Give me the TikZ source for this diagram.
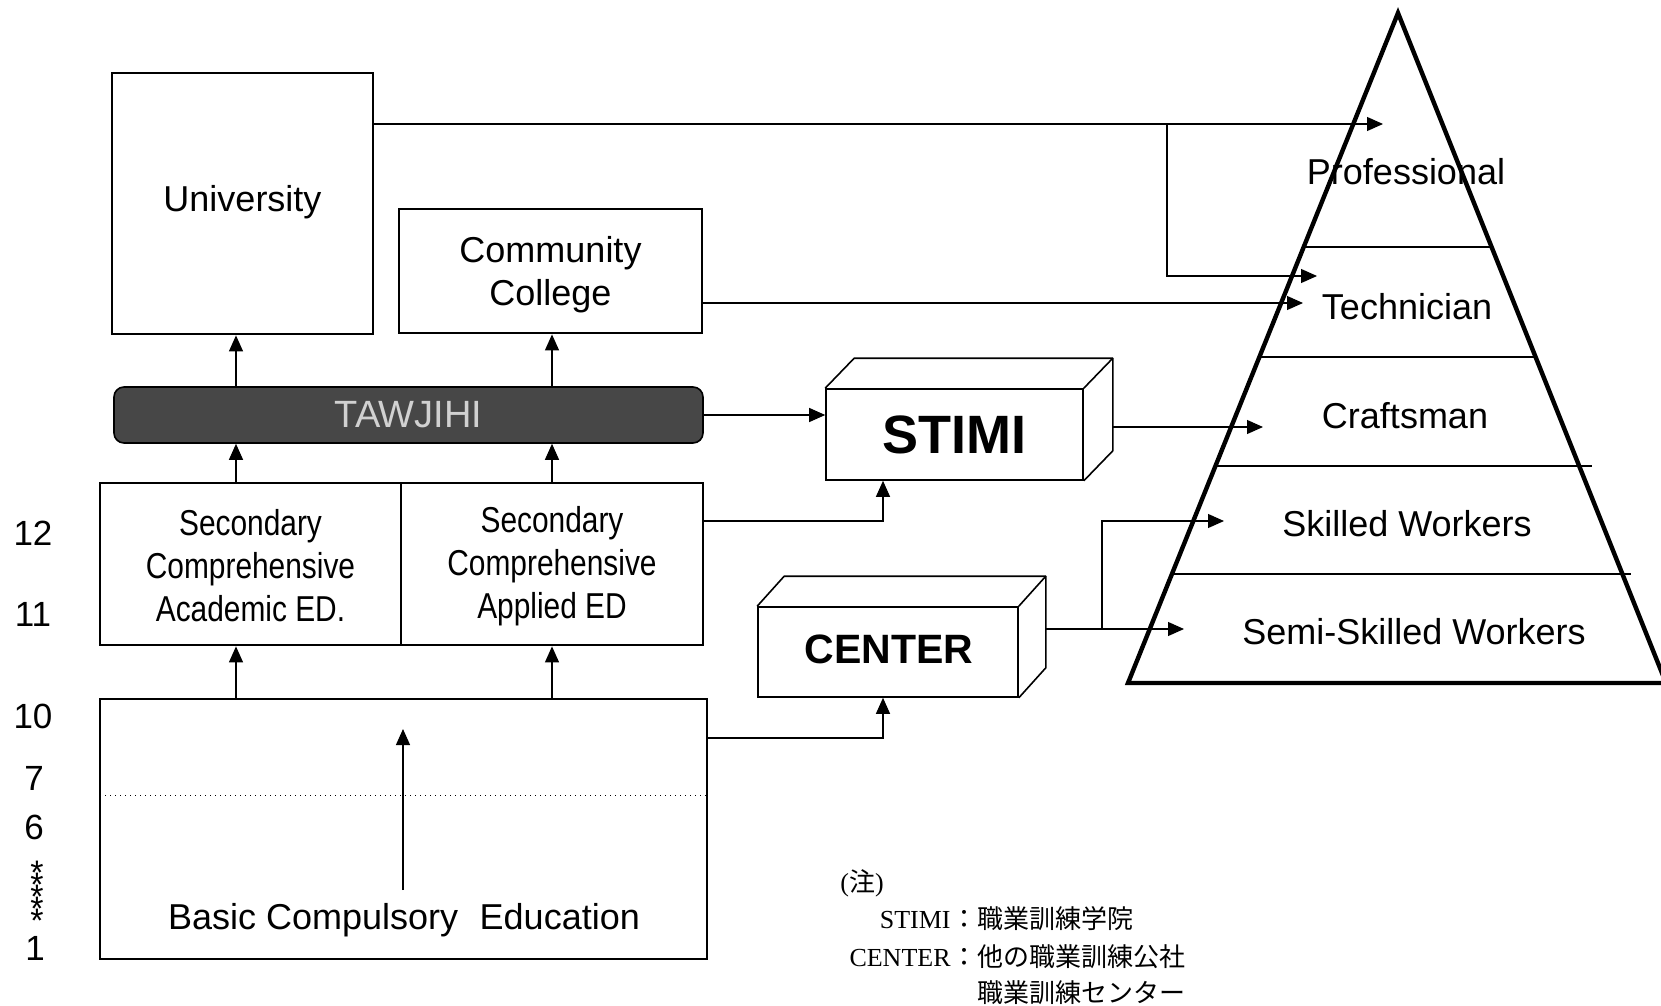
\documentclass[tikz,border=0pt]{standalone}
\usepackage{fontspec}
\setmainfont{Liberation Sans}
\newfontfamily\narrowsans[FakeStretch=0.83]{Liberation Sans}
\newfontfamily\notefont{Liberation Serif}
\newfontfamily\jpfont{Noto Sans CJK JP}
\usetikzlibrary{fit,arrows.meta,calc}
\begin{document}
\begin{tikzpicture}[x=0.5pt,y=-0.5pt,
 box/.style={draw,line width=1.4pt,inner sep=0pt},
 cube/.style={draw,line width=0.8pt,inner sep=0pt},
 cubeline/.style={line width=0.8pt,line join=round},
 conn/.style={line width=0.6pt},
 arr/.style={conn,-{Triangle[length=8pt,width=7pt]}},
 lbl/.style={inner sep=0pt,align=center,font=\fontsize{18}{21.5}\selectfont},
 slbl/.style={inner sep=0pt,align=center,font=\narrowsans\fontsize{18}{21.5}\selectfont},
 num/.style={inner sep=0pt,font=\fontsize{17.5}{20}\selectfont},
 note/.style={inner sep=0pt,font=\notefont\fontsize{13}{15}\selectfont},
 jnote/.style={inner sep=0pt,font=\jpfont\fontsize{13}{15}\selectfont},
 layer/.style={line width=0.7pt}
]
\useasboundingbox (0,0) rectangle (1661,1006);

% left column boxes
\node[box,fit={(112,73)(373,334)}] (univ) {};
\node[lbl] (univtxt) at ($(univ.center)+(0,-1)$) {University};
\node[box,fit={(399,209)(702,333)}] (cc) {};
\node[lbl] (cctxt) at ($(cc.center)+(0,4)$) {Community\\College};
\node[draw=black,line width=0.8pt,fill=black!72,rounded corners=5pt,inner sep=0pt,
      fit={(114,387)(703,443)}] (taw) {};
\node[inner sep=0pt,text=black!18,font=\fontsize{19}{22}\selectfont] (tawtxt) at (taw.center) {TAWJIHI};
\node[box,fit={(100,483)(401,645)}] (seca) {};
\node[slbl] (secatxt) at ($(seca.center)+(0,2)$) {Secondary\\Comprehensive\\Academic ED.};
\node[box,fit={(401,483)(703,645)}] (secb) {};
\node[slbl] (secbtxt) at ($(secb.center)+(0,2)$) {Secondary\\Comprehensive\\Applied ED};
\node[box,fit={(100,699)(707,959)}] (basic) {};
\node[lbl] (basictxt) at (404,920) {Basic Compulsory\hspace{0.6em}Education};
\coordinate (dotL) at (100,795);
\draw[dotted,line width=0.5pt] (dotL) -- (dotL -| basic.east);
\coordinate (inA) at (403,890);
\coordinate (inB) at (403,729);
\draw[arr] (inA) -- (inB);

% vertical arrows
\coordinate (xa) at (236,0);
\coordinate (xb) at (552,0);
\draw[arr] (xa |- basic.north) -- (xa |- seca.south);
\draw[arr] (xb |- basic.north) -- (xb |- secb.south);
\draw[arr] (xa |- seca.north) -- (xa |- taw.south);
\draw[arr] (xb |- secb.north) -- (xb |- taw.south);
\draw[arr] (xa |- taw.north) -- (xa |- univ.south);
\draw[arr] (xb |- taw.north) -- (xb |- cc.south);

% STIMI cube
\node[cube,fit={(826,389)(1083,480)}] (stimi) {};
\node[inner sep=0pt,font=\bfseries\fontsize{27}{30}\selectfont] (stimitxt) at (stimi.center) {STIMI};
\coordinate (stimiTL) at ($(stimi.north west)+(29,-30)$);
\coordinate (stimiTR) at ($(stimi.north east)+(29,-30)$);
\coordinate (stimiBR) at ($(stimi.south east)+(29,-30)$);
\draw[cubeline] (stimi.north west) -- (stimiTL) -- (stimiTR) -- (stimiBR) -- (stimi.south east);
\draw[cubeline] (stimi.north east) -- (stimiTR);

% CENTER cube
\node[cube,fit={(758,607)(1018,697)}] (center) {};
\node[inner sep=0pt,font=\bfseries\fontsize{20.5}{24}\selectfont] (centertxt) at ($(center.center)+(1,-3)$) {CENTER};
\coordinate (centerTL) at ($(center.north west)+(27,-30)$);
\coordinate (centerTR) at ($(center.north east)+(27,-30)$);
\coordinate (centerBR) at ($(center.south east)+(27,-30)$);
\draw[cubeline] (center.north west) -- (centerTL) -- (centerTR) -- (centerBR) -- (center.south east);
\draw[cubeline] (center.north east) -- (centerTR);

% connectors to cubes
\coordinate (xs) at (883,0);
\coordinate (ySecB) at (0,521);
\coordinate (yBasic) at (0,738);
\draw[arr] (taw.east) -- (taw.east -| stimi.west);
\draw[arr] (secb.east |- ySecB) -| (xs |- stimi.south);
\draw[arr] (basic.east |- yBasic) -| (xs |- center.south);

% pyramid
\coordinate (apex) at (1398,13);
\coordinate (bl) at (1128,683);
\coordinate (br) at (1666,683);
\draw[line width=2.2pt,line join=miter] (bl) -- (apex) -- (br) -- cycle;
\foreach \t in {0.3493,0.5134} {
  \draw[layer] ($(apex)!\t!(bl)$) -- ($(apex)!\t!(br)$);
}
\draw[layer] ($(apex)!0.6761!(bl)$) -- ($(apex)!0.6761!(br)+(13,0)$);
\draw[layer] ($(apex)!0.8373!(bl)$) -- ($(apex)!0.8373!(br)+(9,0)$);

\node[lbl] (prof) at (1406,172) {Professional};
\node[lbl] (tech) at (1407,307) {Technician};
\node[lbl] (craft) at (1405,416) {Craftsman};
\node[lbl] (skill) at (1407,524) {Skilled Workers};
\node[lbl] (semi) at (1414,632) {Semi-Skilled Workers};

% arrows into pyramid
\coordinate (tipPro) at (1383,124);
\coordinate (brU) at (1167,124);
\coordinate (tipTechA) at (1317,276);
\coordinate (tipTechB) at (1303,303);
\coordinate (tipCraft) at (1263,427);
\coordinate (tipSkill) at (1224,521);
\coordinate (tipSemi) at (1184,629);
\coordinate (brC) at (1102,629);
\draw[arr] (univ.east |- tipPro) -- (tipPro);
\draw[arr] (brU) |- (tipTechA);
\draw[arr] (cc.east |- tipTechB) -- (tipTechB);
\draw[arr] (stimiBR |- tipCraft) -- (tipCraft);
\draw[arr] (centerBR |- tipSemi) -- (tipSemi);
\draw[arr] (brC) |- (tipSkill);

% grade numbers
\node[num] (g12) at (33,533) {12};
\node[num] (g11) at (33,614) {11};
\node[num] (g10) at (33,716) {10};
\node[num] (g7) at (34,778) {7};
\node[num] (g6) at (34,827) {6};
\node[inner sep=0pt,font=\fontsize{17}{20}\selectfont] (stars) at (37,897)
  {\vbox{\baselineskip=6pt\lineskiplimit=-100pt\hbox{*}\hbox{*}\hbox{*}\hbox{*}\hbox{*}}};
\node[num] (g1) at (35,948) {1};

% notes
\node[note,anchor=base west] (zhu) at (840,891) {({\jpfont 注})};
\node[note,anchor=base east] (n1l) at (951,928) {STIMI};
\node[jnote,anchor=base west] (n1r) at (951,928) {：職業訓練学院};
\node[note,anchor=base east] (n2l) at (951,966) {CENTER};
\node[jnote,anchor=base west] (n2r) at (951,966) {：他の職業訓練公社};
\node[jnote,anchor=base west] (n3) at (977,1002) {職業訓練センター};
\end{tikzpicture}
\end{document}
